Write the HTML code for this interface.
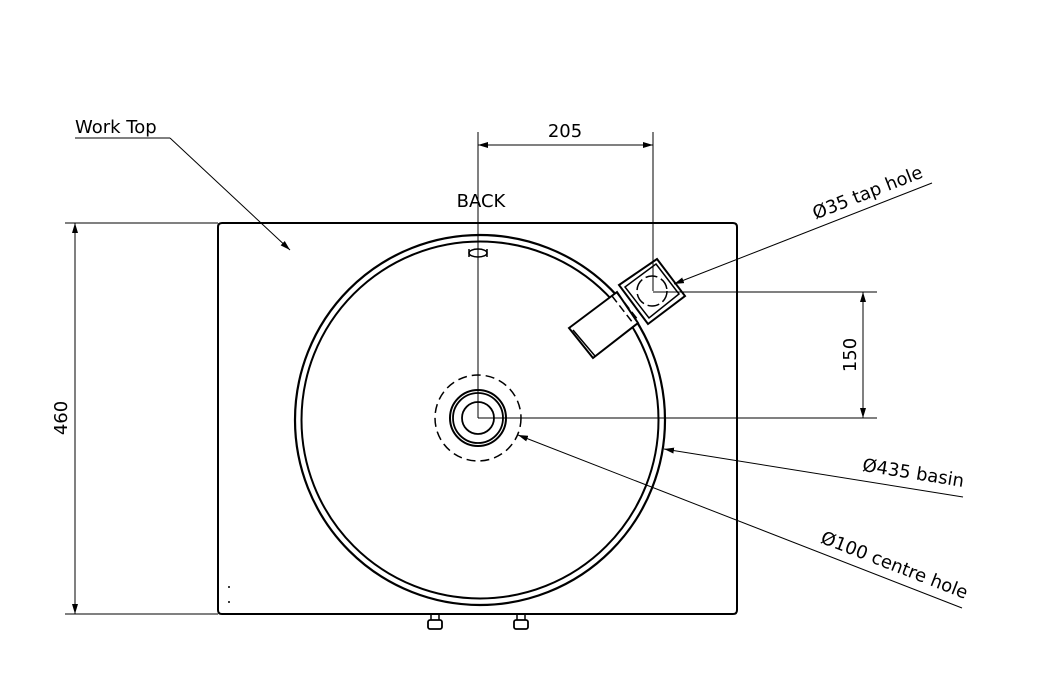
<!DOCTYPE html>
<html><head><style>
html,body{margin:0;padding:0;background:#fff;}
svg{display:block;}
text{font-family:"DejaVu Sans","Liberation Sans",sans-serif;fill:#000;}
</style></head><body>
<svg width="1039" height="700" viewBox="0 0 1039 700" xmlns="http://www.w3.org/2000/svg">
<defs>
<marker id="a" viewBox="0 0 10 6" refX="10" refY="3" markerWidth="10" markerHeight="6" orient="auto-start-reverse" markerUnits="userSpaceOnUse">
<path d="M0,0 L10,3 L0,6 z" fill="#000"/>
</marker>
</defs>
<g fill="none" stroke="#000">
<path d="M222,223 H733 Q737,223 737,227 V610 Q737,614 733,614 H222 Q218,614 218,610 V227 Q218,223 222,223 Z" stroke-width="2"/>
<circle cx="480" cy="420" r="185" stroke-width="2.2"/>
<circle cx="480" cy="420" r="178.5" stroke-width="2"/>
<circle cx="478" cy="418" r="43" stroke-width="1.5" stroke-dasharray="9,5"/>
<circle cx="478" cy="418" r="28" stroke-width="2"/>
<circle cx="478" cy="418" r="25" stroke-width="1.8"/>
<circle cx="478" cy="418" r="16" stroke-width="1.8"/>
<ellipse cx="478" cy="253" rx="9" ry="4" stroke-width="1.5"/>
<path d="M469,249 v8 M487,249 v8" stroke-width="1.5"/>
<polygon points="657,259 685,296 648,324 619,285" stroke-width="2"/>
<polygon points="656,264 679,294 649,318 625,287" stroke-width="1.5"/>
<polygon points="569,328 593,358 638,323 617,292" stroke-width="2" fill="#fff"/>
<path d="M573,330 L595,356" stroke-width="1.5"/>
<path d="M612,296 L633,323 M617,293 L638,320" stroke-width="1.5" stroke-dasharray="8,4"/>
<circle cx="652" cy="291" r="15" stroke-width="1.5" stroke-dasharray="12,4"/>
<rect x="428" y="620" width="14" height="9" rx="2" stroke-width="1.8"/>
<path d="M431,615 v5 M439,615 v5" stroke-width="1.5"/>
<rect x="514" y="620" width="14" height="9" rx="2" stroke-width="1.8"/>
<path d="M517,615 v5 M525,615 v5" stroke-width="1.5"/>
<g stroke-width="1">
<path d="M478,132 V418"/>
<path d="M653,132 V291"/>
<line x1="478" y1="145" x2="653" y2="145" marker-start="url(#a)" marker-end="url(#a)"/>
<path d="M653,292 H877 M478,418 H877"/>
<line x1="863" y1="292" x2="863" y2="418" marker-start="url(#a)" marker-end="url(#a)"/>
<path d="M65,223 H218 M65,614 H218"/>
<line x1="75" y1="223" x2="75" y2="614" marker-start="url(#a)" marker-end="url(#a)"/>
<path d="M75,138 H170"/>
<line x1="170" y1="138" x2="290" y2="250" marker-end="url(#a)"/>
<line x1="932" y1="183" x2="674" y2="284" marker-end="url(#a)"/>
<line x1="963" y1="497" x2="664" y2="449" marker-end="url(#a)"/>
<line x1="962" y1="608" x2="518" y2="435" marker-end="url(#a)"/>
</g>
</g>
<circle cx="229" cy="587" r="1" fill="#000"/>
<circle cx="229" cy="602" r="1" fill="#000"/>
<text x="75" y="133" font-size="18">Work Top</text>
<text x="565" y="137" font-size="18" text-anchor="middle">205</text>
<text x="481" y="207" font-size="18" text-anchor="middle">BACK</text>
<text x="0" y="0" font-size="18" text-anchor="middle" transform="translate(67,418) rotate(-90)">460</text>
<text x="0" y="0" font-size="18" text-anchor="middle" transform="translate(856,355) rotate(-90)">150</text>
<text x="0" y="0" font-size="18" text-anchor="end" transform="translate(924,177) rotate(-21.4)">Ø35 tap hole</text>
<text x="0" y="0" font-size="18" text-anchor="end" transform="translate(963,487) rotate(9.1)">Ø435 basin</text>
<text x="0" y="0" font-size="18" text-anchor="end" transform="translate(965,599) rotate(21.3)">Ø100 centre hole</text>
</svg>
</body></html>
